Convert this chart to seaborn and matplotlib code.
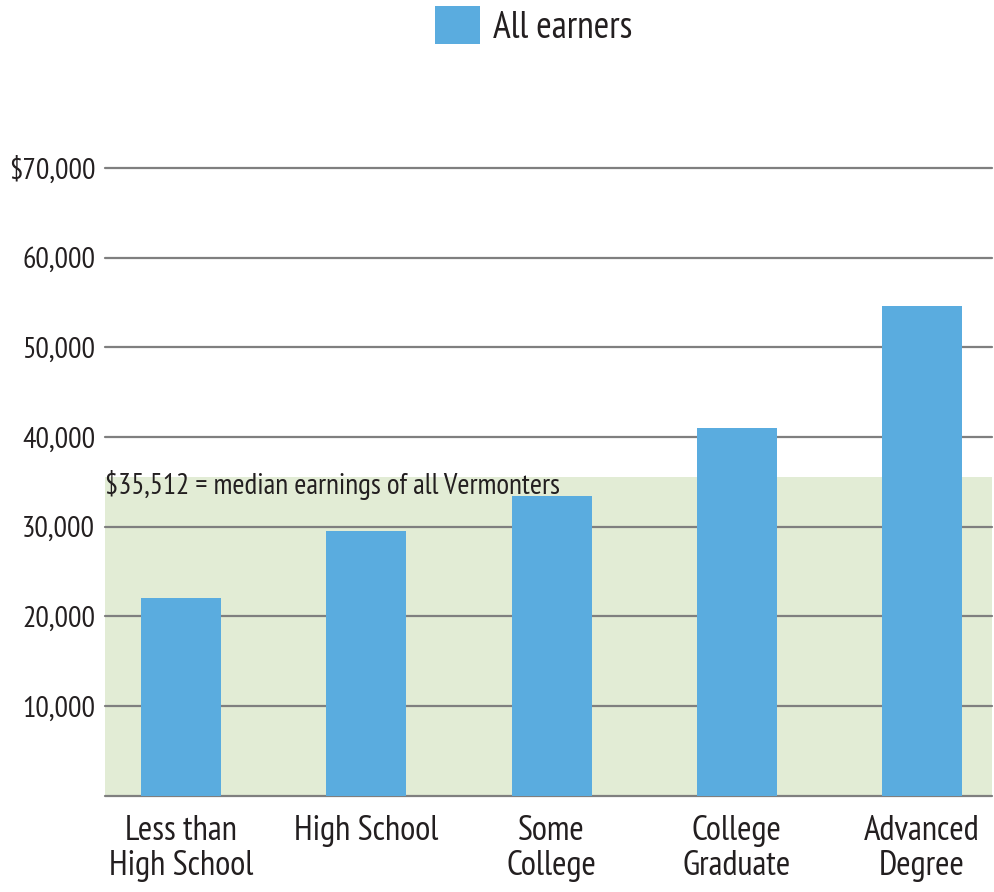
import pandas as pd
import matplotlib
import seaborn as sns
import matplotlib.pyplot as plt
from matplotlib import font_manager

matplotlib.use('Agg')

levels = ["Less than\nHigh School", "High School", "Some\nCollege",
          "College\nGraduate", "Advanced\nDegree"]
earnings = [22100, 29500, 33400, 41000, 54600]
series = ["All earners"] * len(levels)
median_all = 35512
yticks = [10000, 20000, 30000, 40000, 50000, 60000, 70000]
ytick_labels = ["10,000", "20,000", "30,000", "40,000", "50,000", "60,000", "$70,000"]

bar_color = "#5aacdf"
shade_color = "#e2ecd5"
grid_color = "#7f7f7f"
text_color = "#231f20"

# narrow font close to the original condensed face, first one installed wins
installed = {f.name for f in font_manager.fontManager.ttflist}
wanted = ["PT Sans Narrow", "Roboto Condensed", "Open Sans Condensed",
          "Fira Sans Condensed", "Liberation Sans Narrow", "Archivo Narrow"]
family = next((f for f in wanted if f in installed), "DejaVu Sans")

sns.set_style("white")
plt.rcParams['font.family'] = [family, 'DejaVu Sans']

df = pd.DataFrame({"level": levels, "earnings": earnings, "series": series})

fig = plt.figure(figsize=(9.94, 8.92), dpi=100)
ax = fig.add_axes([105 / 994, 96.3 / 892, 887 / 994, 627.7 / 892])

sns.barplot(data=df, x="level", y="earnings", hue="series", palette=[bar_color],
            width=0.432, linewidth=0, saturation=1, ax=ax, zorder=3)

ax.axhspan(0, median_all, color=shade_color, zorder=0, lw=0)
for y in [0] + yticks:
    ax.axhline(y, color=grid_color, lw=1.6, zorder=1, clip_on=False)

ax.set_xlim(-0.41, 4.377)
ax.set_ylim(0, 70000)
ax.set_yticks(yticks)
ax.set_yticklabels(ytick_labels)
ax.tick_params(axis='y', length=0, pad=7, labelsize=21.5, labelcolor=text_color)
ax.tick_params(axis='x', length=0, pad=14, labelsize=25, labelcolor=text_color)
for lab in ax.get_xticklabels():
    lab.set_linespacing(1.12)
ax.set_xlabel("")
ax.set_ylabel("")
sns.despine(ax=ax, left=True, bottom=True)

ax.text(-0.41, 33700, "$35,512 = median earnings of all Vermonters",
        fontsize=21, color=text_color, va='baseline', ha='left', zorder=4)

sns.move_legend(ax, "upper center", bbox_to_anchor=(0.537, 0.993),
                bbox_transform=fig.transFigure, frameon=False, title=None,
                fontsize=27, handlelength=1.2, handleheight=1.17,
                handletextpad=0.35, borderaxespad=0, borderpad=0)
for t in ax.get_legend().get_texts():
    t.set_color(text_color)

fig.savefig("out.png", dpi=100)
